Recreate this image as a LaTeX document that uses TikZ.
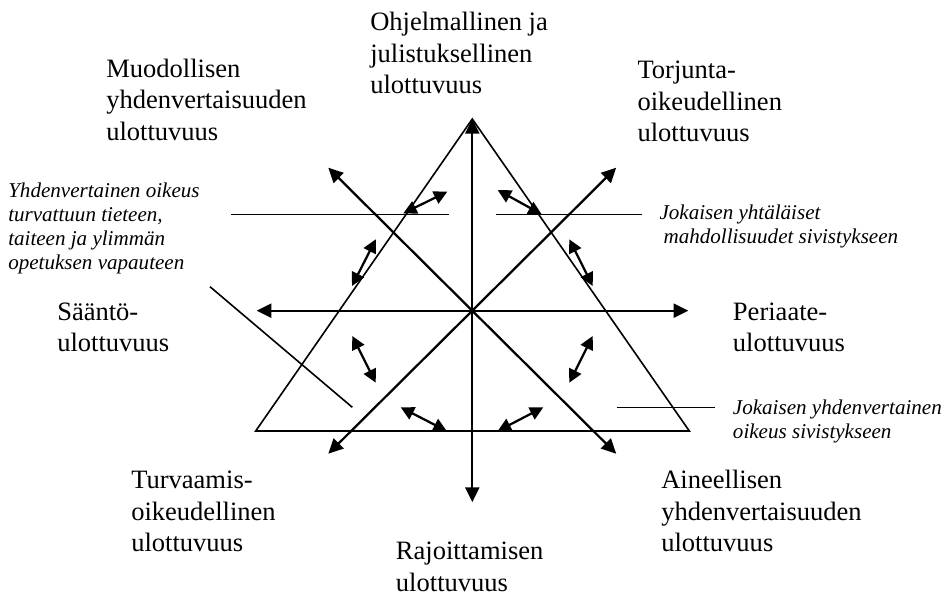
\documentclass[tikz,border=0pt]{standalone}
\usepackage{fontspec}
\setmainfont{Liberation Serif}
\usetikzlibrary{arrows.meta}
\begin{document}
\begin{tikzpicture}[x=0.75pt,y=-0.75pt,
  mainlbl/.style={inner sep=0pt,anchor=base west,align=left,font=\fontsize{19.9}{23.6}\selectfont},
  itlbl/.style={inner sep=0pt,anchor=base west,align=left,font=\fontsize{15.8}{18}\selectfont\itshape},
  tri/.style={line width=1.2pt},
  leader/.style={line width=1.2pt},
  axis/.style={line width=1.7pt,{Triangle[length=11pt,width=10.5pt]}-{Triangle[length=11pt,width=10.5pt]}},
  small/.style={line width=1.7pt,{Triangle[length=10pt,width=10pt]}-{Triangle[length=10pt,width=10pt]}}]
\useasboundingbox (0,0) rectangle (946,593);
% triangle
\coordinate (T) at (472.3,119);
\coordinate (BL) at (255.7,431);
\coordinate (BR) at (689.3,431);
\draw[tri,line join=miter] (T) -- (BL) -- (BR) -- cycle;
% axes
\coordinate (C) at (472.3,310.7);
\coordinate (Vb) at (472.3,502);
\coordinate (Hl) at (256.7,310.7);
\coordinate (Hr) at (688.3,310.7);
\coordinate (DUL) at (328.3,167.7);
\coordinate (DLR) at (616.2,453.7);
\coordinate (DUR) at (616.2,167.7);
\coordinate (DLL) at (328.3,453.7);
\draw[axis] (Vb) -- (T);
\draw[axis] (Hl) -- (Hr);
\draw[axis] (DUL) -- (DLR);
\draw[axis] (DUR) -- (DLL);
% small double arrows
\coordinate (a1s) at (403.3,213.3); \coordinate (a1e) at (447.3,191.7);
\coordinate (a2s) at (352.0,286.0); \coordinate (a2e) at (375.8,239.3);
\coordinate (a3s) at (497.7,190.0); \coordinate (a3e) at (541.7,214.3);
\coordinate (a4s) at (569.3,239.3); \coordinate (a4e) at (592.7,286.0);
\coordinate (a5s) at (352.3,336.0); \coordinate (a5e) at (375.7,382.7);
\coordinate (a6s) at (592.7,336.0); \coordinate (a6e) at (569.3,382.7);
\coordinate (a7s) at (400.7,407.3); \coordinate (a7e) at (446.7,431.0);
\coordinate (a8s) at (497.7,431.0); \coordinate (a8e) at (543.3,407.3);
\foreach \i in {1,...,8} {\draw[small] (a\i s) -- (a\i e);}
% leader lines
\coordinate (L1a) at (231,214.5); \coordinate (L1b) at (448.5,214.5);
\coordinate (L2a) at (495.7,214.5); \coordinate (L2b) at (641.7,214.5);
\coordinate (L3a) at (616.7,407.3); \coordinate (L3b) at (715,407.3);
\coordinate (L4a) at (210,286.7); \coordinate (L4b) at (352.3,407.3);
\draw[leader] (L1a) -- (L1b);
\draw[leader] (L2a) -- (L2b);
\draw[leader] (L3a) -- (L3b);
\draw[leader] (L4a) -- (L4b);
% labels (anchor = baseline of the last line)
\node[mainlbl] (ohj) at (370,93.5) {Ohjelmallinen ja\\julistuksellinen\\ulottuvuus};
\node[mainlbl] (muo) at (106,140) {Muodollisen\\yhdenvertaisuuden\\ulottuvuus};
\node[mainlbl] (tor) at (637.3,141.7) {Torjunta-\\oikeudellinen\\ulottuvuus};
\node[mainlbl] (saa) at (57,351.7) {Sääntö-\\ulottuvuus};
\node[mainlbl] (per) at (732.7,351.7) {Periaate-\\ulottuvuus};
\node[mainlbl] (tur) at (131,551.7) {Turvaamis-\\oikeudellinen\\ulottuvuus};
\node[mainlbl] (ain) at (661,551.7) {Aineellisen\\yhdenvertaisuuden\\ulottuvuus};
\node[mainlbl] (raj) at (395.7,591) {Rajoittamisen\\ulottuvuus};
\node[itlbl] (it1) at (8,269) {Yhdenvertainen oikeus\\turvattuun tieteen,\\taiteen ja ylimmän\\opetuksen vapauteen};
\node[itlbl] (it2) at (659.3,243.3) {Jokaisen yhtäläiset\\\hspace{3pt}mahdollisuudet sivistykseen};
\node[itlbl] (it3) at (732.7,438.3) {Jokaisen yhdenvertainen\\oikeus sivistykseen};
\end{tikzpicture}
\end{document}
